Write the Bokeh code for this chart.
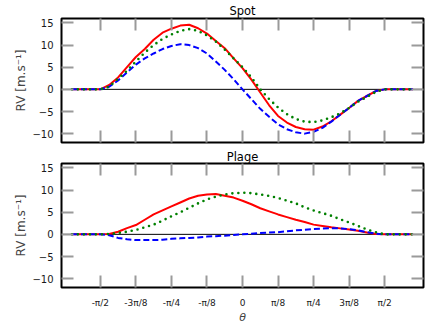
import numpy as np
from bokeh.plotting import figure
from bokeh.models import Range1d, Span, LinearAxis, FixedTicker
from bokeh.layouts import column
from bokeh.embed import file_html
from bokeh.resources import INLINE

# theta, in units of pi
theta = [-0.6, -0.5, -0.46875, -0.4375, -0.40625, -0.375, -0.34375, -0.3125, -0.28125,
         -0.25, -0.21875, -0.1875, -0.15625, -0.125, -0.09375, -0.0625, -0.03125, 0.0,
         0.03125, 0.0625, 0.09375, 0.125, 0.15625, 0.1875, 0.21875, 0.25, 0.28125,
         0.3125, 0.34375, 0.375, 0.40625, 0.4375, 0.46875, 0.5, 0.6]

spot_red   = [0, 0, 1.0, 2.7, 5.0, 7.3, 9.1, 11.2, 12.8, 13.7, 14.4, 14.6, 13.8, 12.6, 10.9, 9.3, 7.0,
              4.8, 2.2, -0.7, -3.6, -6.0, -7.5, -8.5, -9.0, -9.1, -8.4, -7.2, -5.7, -4.2, -2.6, -1.5,
              -0.4, 0, 0]
spot_green = [0, 0, 0.6, 2.4, 4.2, 6.3, 8.3, 10.0, 11.4, 12.4, 13.2, 13.6, 13.2, 12.2, 10.8, 9.0, 7.0,
              5.0, 2.7, 0.0, -2.2, -4.1, -5.6, -6.7, -7.3, -7.4, -7.0, -6.3, -5.4, -4.2, -2.8, -1.7,
              -0.6, 0, 0]
spot_blue  = [0, 0, 0.6, 2.0, 3.8, 5.6, 7.0, 8.1, 9.1, 9.8, 10.2, 10.0, 9.3, 8.1, 6.3, 4.4, 2.3,
              0.0, -2.2, -4.4, -6.2, -7.9, -9.0, -9.7, -10.0, -9.6, -8.7, -7.3, -5.7, -4.2, -2.6, -1.5,
              -0.4, 0, 0]

plage_red   = [0, 0, 0.1, 0.6, 1.4, 2.1, 3.3, 4.5, 5.4, 6.3, 7.2, 8.1, 8.7, 9.0, 9.1, 8.7, 8.3,
               7.6, 6.8, 5.9, 5.2, 4.5, 3.9, 3.3, 2.8, 2.2, 1.9, 1.6, 1.35, 1.1, 0.8, 0.4,
               0.1, 0, 0]
plage_green = [0, 0, 0.1, 0.3, 0.6, 1.0, 1.6, 2.2, 3.1, 4.1, 5.0, 6.0, 7.0, 7.9, 8.5, 9.0, 9.3,
               9.4, 9.3, 9.0, 8.7, 8.2, 7.6, 7.0, 6.1, 5.4, 4.8, 4.2, 3.4, 2.7, 1.9, 1.1,
               0.5, 0, 0]
plage_blue  = [0, 0, -0.2, -0.8, -1.1, -1.3, -1.3, -1.3, -1.2, -1.0, -0.9, -0.8, -0.7, -0.5, -0.4, -0.3, -0.15,
               0.0, 0.15, 0.3, 0.4, 0.5, 0.7, 0.9, 1.05, 1.2, 1.3, 1.4, 1.35, 1.2, 0.9, 0.5,
               0.15, 0, 0]

x_ticks = [-0.5, -0.375, -0.25, -0.125, 0.0, 0.125, 0.25, 0.375, 0.5]
x_tick_labels = ["-π/2", "-3π/8", "-π/4", "-π/8", "0", "π/8", "π/4", "3π/8", "π/2"]
y_ticks = [-10, -5, 0, 5, 10, 15]
y_tick_labels = ["−10", "−5", "0", "5", "10", "15"]

FONT = "DejaVu Sans"
TICK_COLOR = "#9a9a9a"


def overrides(ticks, labels):
    d = {}
    for t, l in zip(ticks, labels):
        d[float(t)] = l
        d[str(t)] = l
        if float(t).is_integer():
            d[str(int(t))] = l
    return d


def style_axis(ax, show_labels, label_size="10px", standoff=8):
    ax.axis_line_color = None
    ax.major_tick_in = 12
    ax.major_tick_out = 0
    ax.major_tick_line_color = TICK_COLOR
    ax.major_tick_line_width = 2
    ax.minor_tick_line_color = None
    ax.major_label_text_font = FONT
    ax.major_label_text_color = "#1a1a1a"
    if show_labels:
        ax.major_label_text_font_size = label_size
        ax.major_label_standoff = standoff
    else:
        ticks = ax.ticker.ticks
        ax.major_label_overrides = overrides(ticks, [""] * len(ticks))
        ax.major_label_text_font_size = "1px"
        ax.major_label_standoff = 0


def make_panel(title, red, green, blue, height, top_border, bottom_border, show_x_labels, title_standoff):
    p = figure(width=430, height=height, output_backend="svg", toolbar_location=None,
               x_range=Range1d(-2 / np.pi, 2 / np.pi), y_range=Range1d(-12, 16),
               min_border_left=61, min_border_right=7,
               min_border_top=top_border, min_border_bottom=bottom_border,
               x_axis_location=None, y_axis_location=None)
    p.grid.visible = False
    p.outline_line_color = "black"
    p.outline_line_width = 2
    p.background_fill_color = "white"
    p.border_fill_color = "white"

    p.title.text = title
    p.title.align = "center"
    p.title.text_font = FONT
    p.title.text_font_size = "11.5px"
    p.title.text_font_style = "normal"
    p.title.text_color = "black"
    p.title.standoff = title_standoff

    bottom = LinearAxis(ticker=FixedTicker(ticks=x_ticks))
    if show_x_labels:
        bottom.major_label_overrides = overrides(x_ticks, x_tick_labels)
    style_axis(bottom, show_x_labels, label_size="9px", standoff=10)
    if show_x_labels:
        bottom.axis_label = "θ"
        bottom.axis_label_text_font = FONT
        bottom.axis_label_text_font_style = "italic"
        bottom.axis_label_text_font_size = "11px"
        bottom.axis_label_standoff = 0
    p.add_layout(bottom, "below")

    top = LinearAxis(ticker=FixedTicker(ticks=x_ticks))
    style_axis(top, False)
    p.add_layout(top, "above")

    left = LinearAxis(ticker=FixedTicker(ticks=y_ticks),
                      major_label_overrides=overrides(y_ticks, y_tick_labels))
    style_axis(left, True, label_size="10px", standoff=8)
    left.axis_label = "RV [m.s⁻¹]"
    left.axis_label_text_font = FONT
    left.axis_label_text_font_style = "normal"
    left.axis_label_text_font_size = "12px"
    left.axis_label_standoff = 1
    p.add_layout(left, "left")

    right = LinearAxis(ticker=FixedTicker(ticks=y_ticks))
    style_axis(right, False)
    p.add_layout(right, "right")

    zero = Span(location=0, dimension="width", line_color="black", line_width=1, level="underlay")
    p.add_layout(zero)

    p.line(theta, red, line_color="#ff0000", line_width=2)
    p.line(theta, blue, line_color="#0000ff", line_width=2, line_dash="6 3")
    p.line(theta, green, line_color="#008000", line_width=2.6, line_dash="0 6", line_cap="round")
    return p


p1 = make_panel("Spot", spot_red, spot_green, spot_blue, 147, 16, 5, False, 2)
p2 = make_panel("Plage", plage_red, plage_green, plage_blue, 180, 14, 40, True, 0)

root = column(p1, p2)

open("out.html", "w").write(file_html(root, INLINE))
